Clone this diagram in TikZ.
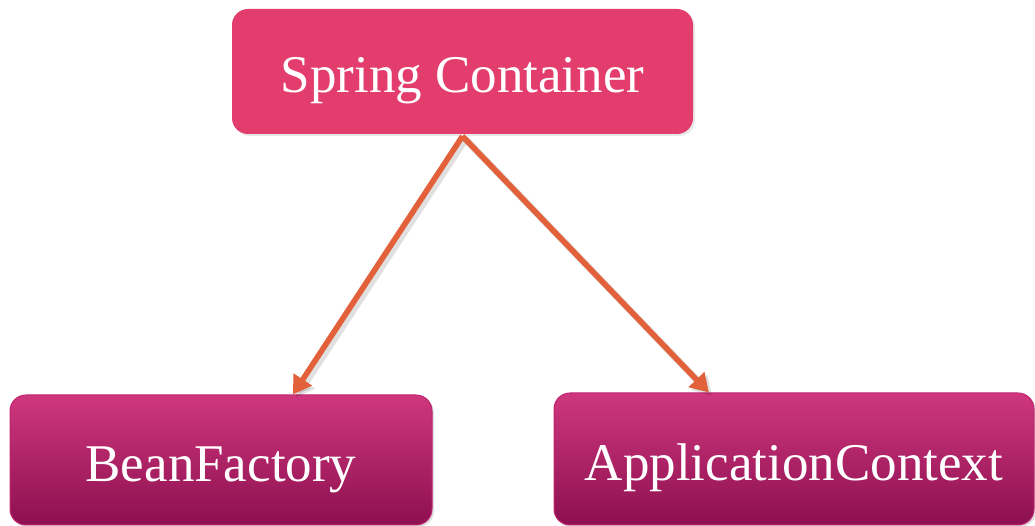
\documentclass[tikz,border=0pt]{standalone}
\usepackage{fontspec}
\setmainfont{Liberation Serif}
\usetikzlibrary{calc,arrows.meta,shadows}
\definecolor{topfill}{HTML}{E33D6E}
\definecolor{gradtop}{HTML}{CF377D}
\definecolor{gradbot}{HTML}{8D1050}
\definecolor{boxline}{HTML}{C02470}
\definecolor{arrowcol}{HTML}{E2613A}
\tikzset{
  boxtext/.style={text=white, font=\fontsize{53}{60}\selectfont, inner sep=0pt,
    text height=43pt, text depth=0pt, rounded corners=16pt},
  topbox/.style={boxtext, fill=topfill,
    drop shadow={opacity=0.18, shadow xshift=2pt, shadow yshift=-2pt}},
  subbox/.style={boxtext, top color=gradtop, bottom color=gradbot, draw=boxline, line width=1pt,
    drop shadow={opacity=0.25, shadow xshift=2pt, shadow yshift=-2pt}},
  link/.style={draw=arrowcol, line width=5.6pt,
    -{Triangle[length=18pt,width=21pt]},
    preaction={draw=black, opacity=0.12, line width=7pt, transform canvas={xshift=3pt,yshift=-3pt}}}
}
\begin{document}
\begin{tikzpicture}[x=1pt,y=1pt]
\useasboundingbox (0,0) rectangle (1035,526);
\node[topbox, minimum width=461pt, minimum height=125pt] (top) at (462.5,454.5) {Spring Container};
\node[subbox, minimum width=422pt, minimum height=130pt] (bf) at (221,66) {BeanFactory};
\node[subbox, minimum width=480pt, minimum height=132pt] (ac) at (794,67) {ApplicationContext};
\coordinate (bftip) at ($(bf.north west)!0.67!(bf.north east)$);
\coordinate (actip) at ($(ac.north west)!0.323!(ac.north east)$);
\draw[link] ($(top.south)+(0,-2)$) -- (bftip);
\draw[link] ($(top.south)+(0,-2)$) -- (actip);
\end{tikzpicture}
\end{document}
